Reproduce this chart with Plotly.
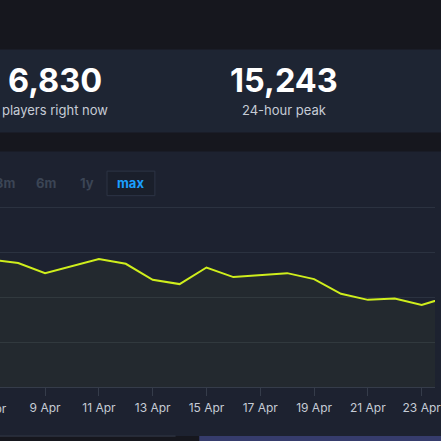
import plotly.graph_objects as go

# daily player counts
dates = ['2025-04-07', '2025-04-08', '2025-04-09', '2025-04-10', '2025-04-11',
         '2025-04-12', '2025-04-13', '2025-04-14', '2025-04-15', '2025-04-16',
         '2025-04-17', '2025-04-18', '2025-04-19', '2025-04-20', '2025-04-21',
         '2025-04-22', '2025-04-23', '2025-04-24']
players = [14190, 13820, 12700, 13500, 14270, 13740, 11960, 11480, 13330, 12260,
           12510, 12700, 12030, 10390, 9720, 9870, 9160, 10060]

current_players = '6,830'
peak_24h = '15,243'
range_buttons = ['3m', '6m', '1y', 'max']

W, H = 441, 441
Y_MAX = 20300
PLOT_BOTTOM = 387
PLOT_TOP = PLOT_BOTTOM - 179 * Y_MAX / 20000
FONT = 'Inter, Roboto, sans-serif'


def px(x):
    return x / W


def py(y):
    return (PLOT_BOTTOM - y) / (PLOT_BOTTOM - PLOT_TOP)


fig = go.Figure()

fig.add_trace(go.Scatter(
    x=dates,
    y=players,
    mode='lines',
    line=dict(color='#cfee1c', width=2),
    fill='tozeroy',
    fillcolor='rgba(200, 230, 30, 0.04)',
    hoverinfo='skip'
))

shapes = [
    # stats panel
    dict(type='rect', xref='paper', yref='paper', x0=px(-5), x1=px(450),
         y0=py(133), y1=py(50), fillcolor='#1e2533', line_width=0, layer='below'),
    # chart panel
    dict(type='rect', xref='paper', yref='paper', x0=px(-5), x1=px(450),
         y0=py(436), y1=py(152), fillcolor='#1d2230', line_width=0, layer='below'),
    # navigator strip
    dict(type='line', xref='paper', yref='paper', x0=px(0), x1=px(178),
         y0=py(436), y1=py(436), line=dict(color='#353c4a', width=1)),
    dict(type='rect', xref='paper', yref='paper', x0=px(202), x1=px(450),
         y0=py(445), y1=py(436), fillcolor='#363c6c', line_width=0),
    # "max" button
    dict(type='rect', xref='paper', yref='paper', x0=px(108.5), x1=px(157),
         y0=py(196), y1=py(171.5), fillcolor='#1a1f2b',
         line=dict(color='#2d3545', width=1), layer='below'),
]

annotations = [
    dict(text=f'<b>{current_players}</b>', x=px(55.5), y=py(81), font=dict(size=32.5, color='#ffffff')),
    dict(text='players right now', x=px(56), y=py(110), font=dict(size=13, color='#c6ccd6')),
    dict(text=f'<b>{peak_24h}</b>', x=px(287.5), y=py(81), font=dict(size=32.5, color='#ffffff')),
    dict(text='24-hour peak', x=px(288), y=py(110), font=dict(size=13, color='#c6ccd6')),
    # partially cut tick label at the left edge
    dict(text='7 Apr', x=px(-8.5), y=py(408), font=dict(size=12, color='#c6ccd6')),
]

button_x = [5, 47, 88, 132.5]
for label, bx in zip(range_buttons, button_x):
    color = '#1a9fff' if label == 'max' else '#3b4555'
    annotations.append(dict(text=f'<b>{label}</b>', x=px(bx), y=py(183.5),
                            font=dict(size=13, color=color)))

for a in annotations:
    a.update(xref='paper', yref='paper', showarrow=False,
             xanchor='center', yanchor='middle')

fig.update_layout(
    width=W,
    height=H,
    margin=dict(l=0, r=0, t=PLOT_TOP, b=H - PLOT_BOTTOM, pad=0),
    paper_bgcolor='#16171e',
    plot_bgcolor='rgba(0,0,0,0)',
    font=dict(family=FONT, color='#c6ccd6'),
    showlegend=False,
    shapes=shapes,
    annotations=annotations,
    xaxis=dict(
        type='date',
        range=['2025-04-07 07:46', '2025-04-23 11:53'],
        tick0='2025-04-01',
        dtick=2 * 86400000,
        tickformat='%-d %b',
        ticks='outside',
        ticklen=8,
        tickcolor='#353c4a',
        showline=True,
        linecolor='#353c4a',
        linewidth=1,
        showgrid=False,
        zeroline=False,
        ticklabeloverflow='allow',
        ticklabelstandoff=2,
        tickfont=dict(size=12, color='#c6ccd6'),
    ),
    yaxis=dict(
        range=[0, Y_MAX],
        tick0=0,
        dtick=5000,
        showticklabels=False,
        gridcolor='#2b3240',
        gridwidth=1,
        zeroline=False,
        showline=False,
    ),
)

fig.write_html('out.html', config={'displayModeBar': False},
               post_script="document.body.style.margin = '0';")
